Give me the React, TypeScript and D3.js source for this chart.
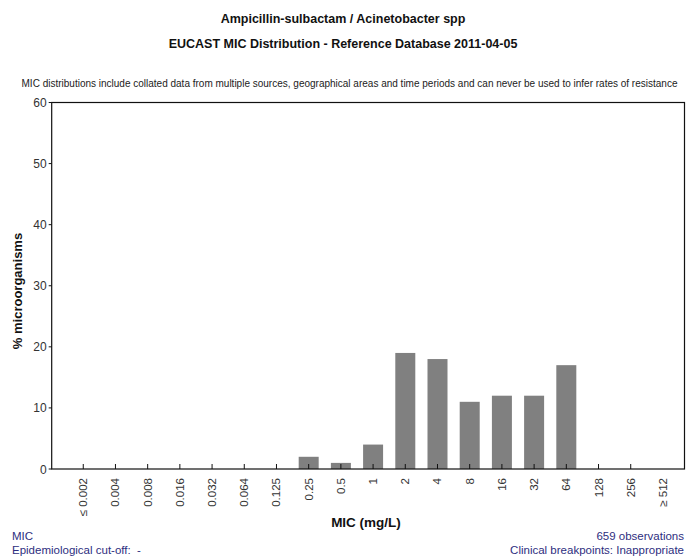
import React from "react";
import * as d3 from "d3";

const categories = ["≤ 0.002", "0.004", "0.008", "0.016", "0.032", "0.064", "0.125", "0.25", "0.5", "1", "2", "4", "8", "16", "32", "64", "128", "256", "≥ 512"];
const percentages = [0, 0, 0, 0, 0, 0, 0, 2, 1, 4, 19, 18, 11, 12, 12, 17, 0, 0, 0];
const yTicks = [0, 10, 20, 30, 40, 50, 60];

const W = 686;
const H = 557;
const plot = { left: 51.7, right: 684.5, top: 102.5, bottom: 469 };
const FONT = "'Liberation Sans', Arial, sans-serif";
const BLUE = "#2e2e80";

export default function App() {
  const x = d3.scaleLinear().domain([-0.98, 18.67]).range([plot.left, plot.right]);
  const y = d3.scaleLinear().domain([0, 60]).range([plot.bottom, plot.top]);
  const barW = 20;

  return (
    <svg width={W} height={H} style={{ position: "absolute", left: 0, top: 0, background: "#fff" }} fontFamily={FONT}>
      <rect x={0} y={0} width={W} height={H} fill="#fff" />
      <text x={343} y={23} textAnchor="middle" fontSize={12.5} fontWeight="bold" fill="#111">
        Ampicillin-sulbactam / Acinetobacter spp
      </text>
      <text x={343} y={48} textAnchor="middle" fontSize={12.5} fontWeight="bold" fill="#111">
        EUCAST MIC Distribution - Reference Database 2011-04-05
      </text>
      <text x={349.5} y={87} textAnchor="middle" fontSize={10} fill="#222">
        MIC distributions include collated data from multiple sources, geographical areas and time periods and can never be used to infer rates of resistance
      </text>

      {/* bars */}
      {percentages.map((v, i) =>
        v > 0 ? (
          <rect key={i} x={x(i) - barW / 2} y={y(v)} width={barW} height={y(0) - y(v)} fill="#808080" />
        ) : null
      )}

      {/* plot frame */}
      <rect x={plot.left} y={plot.top} width={plot.right - plot.left} height={plot.bottom - plot.top} fill="none" stroke="#111" strokeWidth={1.2} />

      {/* y ticks */}
      {yTicks.map((t) => (
        <g key={t}>
          <line x1={plot.left - 3} x2={plot.left} y1={y(t)} y2={y(t)} stroke="#111" />
          <text x={plot.left - 5} y={y(t) + 4.5} textAnchor="end" fontSize={12} fill="#333">
            {t}
          </text>
        </g>
      ))}

      {/* x ticks */}
      {categories.map((c, i) => (
        <g key={c}>
          {i < categories.length - 1 ? (
            <line x1={x(i)} x2={x(i)} y1={plot.bottom} y2={plot.bottom - 5} stroke="#111" />
          ) : null}
          <text
            transform={`translate(${x(i) + 4},${plot.bottom + 9}) rotate(-90)`}
            textAnchor="end"
            fontSize={11.5}
            fill="#333"
          >
            {c}
          </text>
        </g>
      ))}

      <text x={366} y={527} textAnchor="middle" fontSize={13.5} fontWeight="bold" fill="#111">
        MIC (mg/L)
      </text>
      <text transform={`translate(22,291) rotate(-90)`} textAnchor="middle" fontSize={13} fontWeight="bold" fill="#111">
        % microorganisms
      </text>

      <text x={12} y={540} fontSize={11.5} fill={BLUE}>MIC</text>
      <text x={12} y={554} fontSize={11.5} fill={BLUE}>{"Epidemiological cut-off:\u00a0\u00a0-"}</text>
      <text x={684} y={540} textAnchor="end" fontSize={11.5} fill={BLUE}>659 observations</text>
      <text x={684} y={554} textAnchor="end" fontSize={11.5} fill={BLUE}>Clinical breakpoints: Inappropriate</text>
    </svg>
  );
}
